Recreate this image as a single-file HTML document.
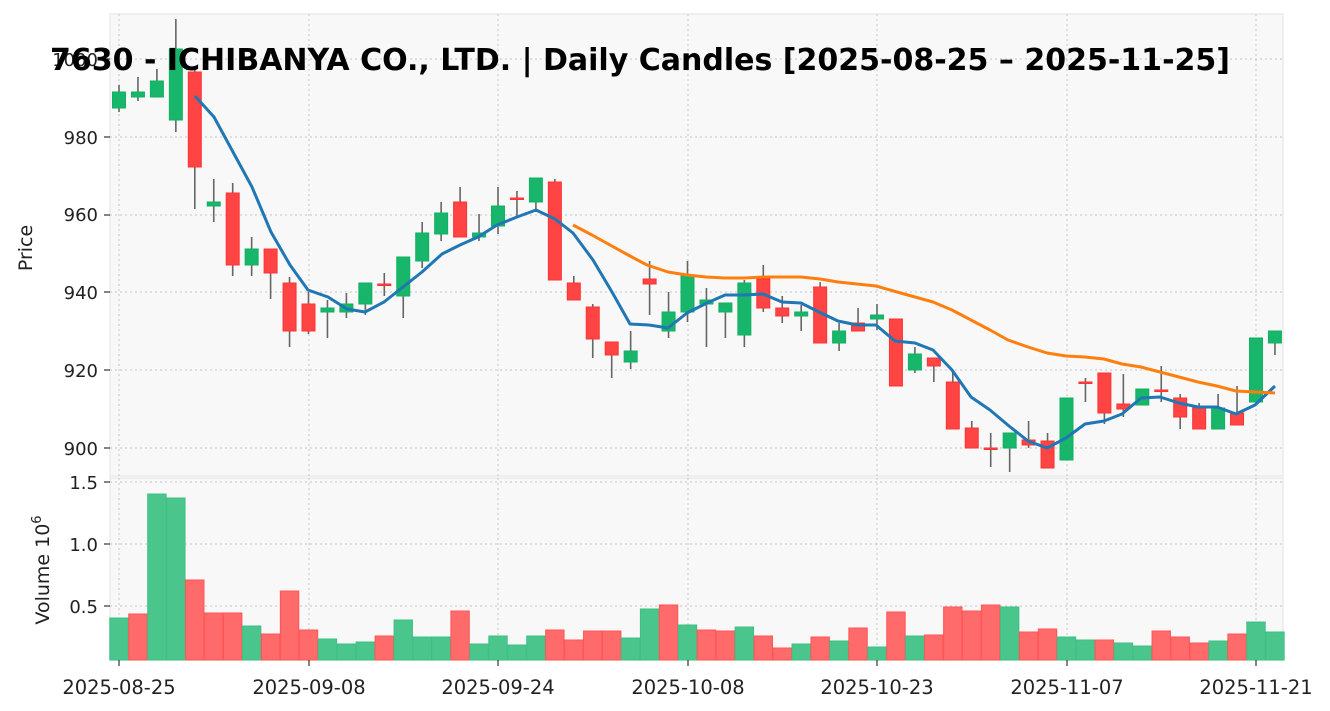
<!DOCTYPE html>
<html><head><meta charset="utf-8"><style>
html,body{margin:0;padding:0;background:#fff;}
svg{display:block;font-family:"DejaVu Sans","Liberation Sans",sans-serif;}
</style></head><body>
<svg id="s" width="1330" height="711" xmlns="http://www.w3.org/2000/svg">
<rect x="110" y="14" width="1173" height="462" fill="#f8f8f8" stroke="#ebebeb" stroke-width="1.5"/>
<rect x="110" y="478" width="1173" height="182" fill="#f8f8f8" stroke="#ebebeb" stroke-width="1.5"/>
<g id="grid" stroke="#cfcfcf" stroke-width="1.2" stroke-dasharray="2,3"></g>
<g id="vol"></g>
<g id="cdl"></g>
<polyline id="ma1" fill="none" stroke="#1f77b4" stroke-width="3" stroke-linejoin="round"/>
<polyline id="ma2" fill="none" stroke="#ff7f0e" stroke-width="3" stroke-linejoin="round"/>
<g font-size="18" fill="#222" text-anchor="end">
<text x="98" y="66">1000</text>
<text x="98" y="144">980</text>
<text x="98" y="221">960</text>
<text x="98" y="299">940</text>
<text x="98" y="377">920</text>
<text x="98" y="455">900</text>
<text x="98" y="489">1.5</text>
<text x="98" y="551">1.0</text>
<text x="98" y="613">0.5</text>
</g>
<g stroke="#333" stroke-width="1.2">
<line x1="104" y1="59" x2="110" y2="59"/><line x1="104" y1="137" x2="110" y2="137"/><line x1="104" y1="215" x2="110" y2="215"/><line x1="104" y1="292" x2="110" y2="292"/><line x1="104" y1="370" x2="110" y2="370"/><line x1="104" y1="448" x2="110" y2="448"/>
<line x1="104" y1="482" x2="110" y2="482"/><line x1="104" y1="544" x2="110" y2="544"/><line x1="104" y1="606" x2="110" y2="606"/>
<line x1="119" y1="660" x2="119" y2="666"/><line x1="309" y1="660" x2="309" y2="666"/><line x1="498" y1="660" x2="498" y2="666"/><line x1="688" y1="660" x2="688" y2="666"/><line x1="877" y1="660" x2="877" y2="666"/><line x1="1067" y1="660" x2="1067" y2="666"/><line x1="1256" y1="660" x2="1256" y2="666"/>
</g>
<g font-size="19.5" fill="#222" text-anchor="middle">
<text x="119" y="694">2025-08-25</text>
<text x="309" y="694">2025-09-08</text>
<text x="498" y="694">2025-09-24</text>
<text x="688" y="694">2025-10-08</text>
<text x="877" y="694">2025-10-23</text>
<text x="1067" y="694">2025-11-07</text>
<text x="1256" y="694">2025-11-21</text>
</g>
<text transform="translate(32,248) rotate(-90)" font-size="19" fill="#222" text-anchor="middle">Price</text>
<text transform="translate(49,570) rotate(-90)" font-size="19" fill="#222" text-anchor="middle">Volume  10<tspan font-size="13" dy="-8">6</tspan></text>
<text x="640" y="70" font-size="30" font-weight="bold" fill="#000" text-anchor="middle" textLength="1180" lengthAdjust="spacingAndGlyphs">7630 - ICHIBANYA CO., LTD. | Daily Candles [2025-08-25 – 2025-11-25]</text>
</svg>
<script>
var NS="http://www.w3.org/2000/svg";
function el(p,t,a){var e=document.createElementNS(NS,t);for(var k in a)e.setAttribute(k,a[k]);p.appendChild(e);return e;}
var X=function(i){return 119+18.95*i;};
var g=document.getElementById('grid');
[59,137,215,292,370,448].forEach(function(y){el(g,'line',{x1:110,x2:1283,y1:y,y2:y});});
[482,544,606].forEach(function(y){el(g,'line',{x1:110,x2:1283,y1:y,y2:y});});
[119,309,498,688,877,1067,1256].forEach(function(x){el(g,'line',{x1:x,x2:x,y1:14,y2:476});el(g,'line',{x1:x,x2:x,y1:478,y2:660});});
var C=[
['g',92,108,85,112],['g',92,97,77,101],['g',81,97,69,97],['g',49,120,19,132],['r',72,167,67,209],
['g',202,206,179,222],['r',193,265,183,276],['g',249,265,237,276],['r',249,273,249,299],['r',283,331,277,347],
['r',304,331,292,334],['g',308,312,300,338],['g',304,312,293,318],['g',283,304,283,315],['r',284,284,273,296],
['g',257,296,257,318],['g',233,261,222,268],['g',213,234,202,241],['r',202,237,187,237],['g',233,237,214,241],
['g',206,226,187,234],['r',198,198,191,217],['g',178,202,178,212],['r',182,280,179,280],['r',283,300,276,300],
['r',307,339,304,358],['r',342,355,342,378],['g',351,362,331,369],['r',279,284,261,315],['g',312,331,292,338],
['g',275,312,261,322],['g',300,304,288,347],['g',303,312,303,338],['g',283,335,280,347],['r',279,308,265,312],
['r',308,316,296,323],['g',312,316,305,331],['r',287,343,282,343],['g',331,343,323,351],['r',323,331,308,331],
['g',315,319,304,330],['r',319,386,319,386],['g',354,370,347,373],['r',358,366,358,382],['r',382,429,370,429],
['r',428,448,421,448],['r',448,448,433,467],['g',433,448,433,472],['r',440,445,421,448],['r',441,468,433,468],
['g',398,460,398,460],['r',382,382,378,402],['r',373,413,373,424],['r',404,409,374,417],['g',389,405,389,405],
['r',390,390,366,402],['r',398,417,394,429],['r',408,429,403,429],['g',408,429,394,429],['r',413,425,386,425],
['g',338,402,338,402],['g',331,343,331,355]];
var V=[['g',618],['r',614],['g',494],['g',498],['r',580],['r',613],['r',613],['g',626],['r',634],['r',591],['r',630],['g',639],['g',644],['g',642],['r',636],['g',620],['g',637],['g',637],['r',611],['g',644],['g',636],['g',645],['g',636],['r',630],['r',640],['r',631],['r',631],['g',638],['g',609],['r',605],['g',625],['r',630],['r',631],['g',627],['r',636],['r',648],['g',644],['r',637],['g',641],['r',628],['g',647],['r',612],['g',636],['r',635],['r',607],['r',611],['r',605],['g',607],['r',632],['r',629],['g',637],['g',640],['r',640],['g',643],['g',646],['r',631],['r',637],['r',643],['g',641],['r',634],['g',622],['g',632]];
var vg=document.getElementById('vol'),cg=document.getElementById('cdl');
V.forEach(function(v,i){var x=X(i);el(vg,'rect',{x:x-9.2,y:v[1],width:18.4,height:660-v[1],fill:v[0]=='g'?'#4ac68c':'#ff6b6b',stroke:v[0]=='g'?'#3fc084':'#ff5555','stroke-width':1});});
C.forEach(function(c,i){var x=X(i);el(cg,'line',{x1:x,x2:x,y1:c[3],y2:c[4],stroke:'#666','stroke-width':1.6});
var col=c[0]=='g'?'#17b66b':'#ff4444';var h=Math.max(c[2]-c[1],1.5);
el(cg,'rect',{x:x-6.5,y:c[1],width:13,height:h,fill:col,stroke:c[0]=='g'?'#12b163':'#ff3333','stroke-width':1});});
var m1=[[195,96],[214,117],[233,152],[252,187],[271,232],[290,265],[308,290],[328,297],[347,309],[365,312],[384,302],[403,287],[422,272],[442,254],[460,245],[478,237],[497,225],[517,217],[536,210],[555,219],[573,233],[593,260],[612,292],[630,324],[649,325],[668,328],[687,313],[707,303],[725,295],[744,295],[763,294],[782,302],[801,303],[819,312],[838,321],[857,325],[876,325],[895,341],[915,343],[933,350],[952,370],[971,397],[990,410],[1009,426],[1028,441],[1047,448],[1066,438],[1085,424],[1104,421],[1122,414],[1141,398],[1160,397],[1179,403],[1198,407],[1217,407],[1236,414],[1255,405],[1275,386]];
var m2=[[573,225],[592,235],[610,245],[630,256],[647,265],[668,272],[687,275],[706,277],[725,278],[744,278],[763,277],[782,277],[801,277],[820,279],[838,282],[857,284],[876,286],[897,292],[915,297],[933,302],[952,310],[971,320],[990,330],[1008,340],[1028,347],[1047,353],[1066,356],[1085,357],[1104,359],[1122,364],[1141,367],[1160,372],[1179,377],[1198,382],[1217,386],[1236,391],[1255,392],[1275,393]];
document.getElementById('ma1').setAttribute('points',m1.join(' '));
document.getElementById('ma2').setAttribute('points',m2.join(' '));
</script>
</body></html>
